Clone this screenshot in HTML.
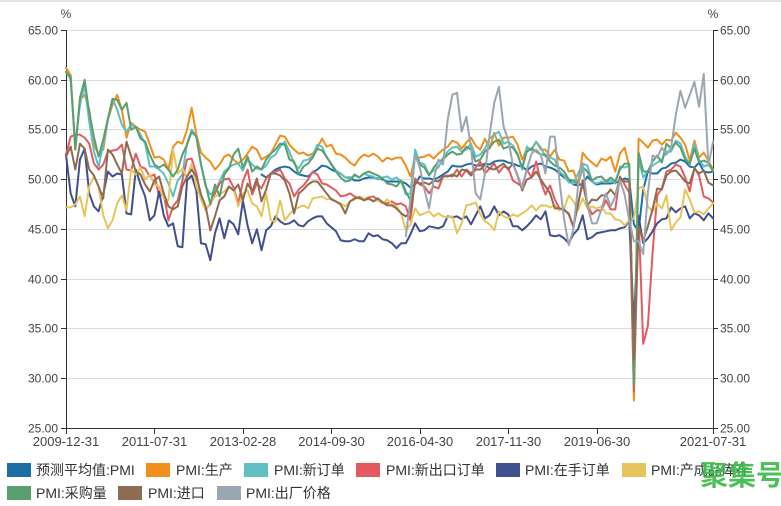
<!DOCTYPE html>
<html><head><meta charset="utf-8"><style>
html,body{margin:0;padding:0;background:#fff;}
svg{display:block;}
text{font-family:"Liberation Sans","Noto Sans CJK SC",sans-serif;}
</style></head><body>
<svg width="781" height="506" viewBox="0 0 781 506" xmlns="http://www.w3.org/2000/svg">
<rect x="0" y="0" width="781" height="506" fill="#fff"/>
<rect x="0" y="0" width="781" height="2" fill="#e2e2e2"/>
<!-- grid -->
<g stroke="#dcdcdc" stroke-width="1">
<line x1="66" y1="30.5" x2="713" y2="30.5"/>
<line x1="66" y1="80.5" x2="713" y2="80.5"/>
<line x1="66" y1="129.5" x2="713" y2="129.5"/>
<line x1="66" y1="179.5" x2="713" y2="179.5"/>
<line x1="66" y1="229.5" x2="713" y2="229.5"/>
<line x1="66" y1="279.5" x2="713" y2="279.5"/>
<line x1="66" y1="328.5" x2="713" y2="328.5"/>
<line x1="66" y1="378.5" x2="713" y2="378.5"/>
</g>
<!-- axes -->
<g stroke="#333" stroke-width="1">
<line x1="66.5" y1="30" x2="66.5" y2="429"/>
<line x1="713.5" y1="30" x2="713.5" y2="429"/>
<line x1="66" y1="428.5" x2="714" y2="428.5"/>
<line x1="61" y1="30.5" x2="66" y2="30.5"/><line x1="61" y1="80.5" x2="66" y2="80.5"/><line x1="61" y1="129.5" x2="66" y2="129.5"/><line x1="61" y1="179.5" x2="66" y2="179.5"/><line x1="61" y1="229.5" x2="66" y2="229.5"/><line x1="61" y1="279.5" x2="66" y2="279.5"/><line x1="61" y1="328.5" x2="66" y2="328.5"/><line x1="61" y1="378.5" x2="66" y2="378.5"/><line x1="61" y1="428.5" x2="66" y2="428.5"/>
<line x1="713" y1="30.5" x2="718" y2="30.5"/><line x1="713" y1="80.5" x2="718" y2="80.5"/><line x1="713" y1="129.5" x2="718" y2="129.5"/><line x1="713" y1="179.5" x2="718" y2="179.5"/><line x1="713" y1="229.5" x2="718" y2="229.5"/><line x1="713" y1="279.5" x2="718" y2="279.5"/><line x1="713" y1="328.5" x2="718" y2="328.5"/><line x1="713" y1="378.5" x2="718" y2="378.5"/><line x1="713" y1="428.5" x2="718" y2="428.5"/>
<line x1="66.5" y1="428" x2="66.5" y2="434"/><line x1="154.5" y1="428" x2="154.5" y2="434"/><line x1="243.5" y1="428" x2="243.5" y2="434"/><line x1="331.5" y1="428" x2="331.5" y2="434"/><line x1="420.5" y1="428" x2="420.5" y2="434"/><line x1="508.5" y1="428" x2="508.5" y2="434"/><line x1="597.5" y1="428" x2="597.5" y2="434"/><line x1="713.5" y1="428" x2="713.5" y2="434"/>
</g>
<!-- y labels -->
<g font-size="12" fill="#444" text-anchor="end">
<text x="58" y="34.5">65.00</text><text x="58" y="84.5">60.00</text><text x="58" y="133.5">55.00</text><text x="58" y="183.5">50.00</text><text x="58" y="233.5">45.00</text><text x="58" y="283.5">40.00</text><text x="58" y="332.5">35.00</text><text x="58" y="382.5">30.00</text><text x="58" y="432.5">25.00</text>
</g>
<g font-size="12" fill="#444" text-anchor="start">
<text x="720" y="34.5">65.00</text><text x="720" y="84.5">60.00</text><text x="720" y="133.5">55.00</text><text x="720" y="183.5">50.00</text><text x="720" y="233.5">45.00</text><text x="720" y="283.5">40.00</text><text x="720" y="332.5">35.00</text><text x="720" y="382.5">30.00</text><text x="720" y="432.5">25.00</text>
</g>
<g font-size="12" fill="#444" text-anchor="middle">
<text x="66" y="18">%</text><text x="713" y="18">%</text>
</g>
<!-- x labels -->
<g font-size="13" fill="#444" text-anchor="middle">
<text x="66" y="446">2009-12-31</text><text x="154.5" y="446">2011-07-31</text><text x="243" y="446">2013-02-28</text><text x="331.5" y="446">2014-09-30</text><text x="420" y="446">2016-04-30</text><text x="508.5" y="446">2017-11-30</text><text x="597" y="446">2019-06-30</text><text x="713" y="446">2021-07-31</text>
</g>
<!-- series -->
<g transform="translate(66,677.5) scale(4.655,-9.96)" fill="none" stroke-width="2" stroke-linejoin="round" stroke-linecap="round">
<polyline vector-effect="non-scaling-stroke" stroke="#1e6ea6" points="42,50.5 43,50.2 44,50.6 45,51 46,51.2 47,51.3 48,51.2 49,50.8 50,50.5 51,50.4 52,50.3 53,50.7 54,51 55,51.4 56,51.3 57,51 58,50.8 59,50.6 60,50.2 61,50.2 62,49.9 63,49.9 64,50.1 65,50.2 66,50.2 67,50.1 68,50 69,49.8 70,49.8 71,49.8 72,49.8 73,49.6 74,49.2 75,49.5 76,50.3 77,50.1 78,50.1 79,50 80,50.2 81,50.5 82,50.8 83,51.4 84,51.3 85,51.3 86,51.5 87,51.6 88,51.4 89,51.4 90,51.6 91,51.5 92,51.8 93,51.9 94,51.9 95,51.7 96,51.6 97,51.4 98,51.3 99,50.9 100,51.3 101,51.5 102,51.6 103,51.3 104,51.2 105,51 106,50.6 107,50.2 108,50 109,49.5 110,49.4 111,49.6 112,50.3 113,49.8 114,49.5 115,49.6 116,49.6 117,49.6 118,49.7 119,49.8 120,50.1 121,50 122,45.5 123,44.8 124,49 125,50.8 126,50.6 127,50.6 128,51.1 129,51.2 130,51.6 131,51.7 132,52 133,51.8 134,51.3 135,51.2 136,51.7 137,50.8 138,50.7 139,50.8"/>
<polyline vector-effect="non-scaling-stroke" stroke="#f28e1c" points="0,61.2 1,60.5 2,53 3,58 4,58.5 5,57 6,53.5 7,52.5 8,53 9,56 10,57.5 11,58.5 12,57 13,54.2 14,55.7 15,55.3 16,55 17,54.8 18,53.5 19,52.2 20,52.3 21,52 22,51 23,53.3 24,53.8 25,53.6 26,55 27,57.2 28,54.5 29,52.7 30,52.2 31,51.8 32,51 33,51.5 34,52.3 35,52.5 36,52 37,51.6 38,52 39,52.6 40,53.3 41,53 42,52 43,52.3 44,52.6 45,53.5 46,54.4 47,54.3 48,53.5 49,53 50,52.6 51,52.7 52,52.4 53,52.6 54,53.2 55,54.1 56,53.3 57,53.5 58,52.6 59,52.5 60,52.2 61,51.7 62,51.4 63,52.1 64,52.5 65,52.3 66,52.6 67,52.3 68,51.8 69,52.2 70,52 71,52.2 72,52.2 73,51.4 74,50.3 75,52.3 76,52.2 77,52.3 78,52.5 79,52.1 80,52.6 81,53 82,53.3 83,53.9 84,53.7 85,53.1 86,53.7 87,54.2 88,53.4 89,53 90,54.1 91,53.1 92,54.7 93,53.4 94,54.2 95,54.2 96,54.3 97,53.5 98,52 99,53.1 100,53.1 101,53.8 102,53 103,53 104,52.3 105,53 106,52 107,51.9 108,50.8 109,50.9 110,49.5 111,52.7 112,52.1 113,51.7 114,51.3 115,52.1 116,51.9 117,52.3 118,50.8 119,52.6 120,53.2 121,51.3 122,27.8 123,54.1 124,53.7 125,53.2 126,53.9 127,54 128,53.5 129,54 130,53.9 131,54.7 132,54.2 133,53.5 134,51.9 135,53.9 136,52.2 137,52.7 138,51.9 139,51"/>
<polyline vector-effect="non-scaling-stroke" stroke="#5ec0c2" points="0,60.8 1,60 2,53.5 3,57.5 4,59.5 5,55.8 6,52.8 7,51.3 8,53.5 9,56 10,58.1 11,57 12,55.5 13,54.8 14,55.5 15,55.3 16,54.5 17,53.6 18,51.3 19,51.3 20,51 21,50.6 22,49.6 23,48.3 24,49.9 25,50.5 26,53.6 27,55 28,54.3 29,51.5 30,49.3 31,48.5 32,48.8 33,49.8 34,50.8 35,51.2 36,51.5 37,51.6 38,50.9 39,52 40,51.5 41,51.1 42,51 43,51.4 44,52.2 45,52.5 46,53.3 47,53.8 48,52.8 49,51.6 50,51.1 51,51.9 52,52 53,52.4 54,53.5 55,53.3 56,52.2 57,51.6 58,50.9 59,50.6 60,50.2 61,50.1 62,50.4 63,50.2 64,50.6 65,50.4 66,50.3 67,50 68,50.2 69,50.3 70,50 71,50.2 72,49.8 73,48.5 74,48.6 75,53 76,51.7 77,51.5 78,50.5 79,50.9 80,51.2 81,52.2 82,52.8 83,53.2 84,53.3 85,52.8 86,53 87,53.6 88,52.3 89,52.5 90,53.1 91,54.1 92,54.5 93,54.8 94,53.6 95,53.8 96,53.4 97,52.6 98,51 99,53.3 100,52.9 101,53.8 102,53.2 103,52.3 104,52.2 105,52 106,50.8 107,50.4 108,49.7 109,49.6 110,50.6 111,51.6 112,51.4 113,49.8 114,49.6 115,49.8 116,49.7 117,49.9 118,49.6 119,51.3 120,51.2 121,51.4 122,29.3 123,52 124,50.2 125,50.9 126,51.4 127,51.7 128,52 129,52.8 130,52.8 131,53.9 132,53.6 133,52.3 134,51.5 135,53.6 136,52 137,51.3 138,51.5 139,50.9"/>
<polyline vector-effect="non-scaling-stroke" stroke="#e35b60" points="0,52.5 1,54.3 2,54.5 3,54.5 4,54.2 5,53.6 6,51.6 7,51 8,51.5 9,52.8 10,52.9 11,53 12,53.5 13,51 14,50.9 15,52.6 16,51.3 17,51.1 18,50.3 19,50.5 20,48.3 21,48.6 22,45.9 23,47.3 24,47.9 25,49.9 26,52 27,52.1 28,50.6 29,48.3 30,47 31,47.5 32,48.6 33,49.6 34,50 35,50.1 36,49.2 37,47.6 38,49.8 39,51 40,48.5 41,49.6 42,49.1 43,50.1 44,50.6 45,50.8 46,51 47,50.1 48,49.6 49,48.3 50,49 51,49.4 52,50 53,50.8 54,50.5 55,49.6 56,49.5 57,49.2 58,48.9 59,48.3 60,48.4 61,48.6 62,48.3 63,48.1 64,48 65,48.2 66,48.3 67,48 68,47.7 69,47.6 70,47.8 71,47.5 72,47.6 73,47.3 74,45.9 75,50.1 76,49.5 77,49.3 78,48.6 79,49.3 80,49.1 81,50.3 82,50.4 83,50.3 84,51 85,50.3 86,51 87,50.6 88,51.2 89,51.8 90,50.6 91,51.1 92,51.6 93,50.7 94,51.3 95,51.2 96,49.9 97,49.6 98,49.3 99,51 100,50.2 101,51.8 102,49.8 103,48.5 104,49.4 105,48 106,47.1 107,46.9 108,46.6 109,45.2 110,47.6 111,49.6 112,47.5 113,46.5 114,46.9 115,46.9 116,47.9 117,47 118,47 119,50.3 120,49.5 121,48.7 122,28.7 123,46.4 124,33.5 125,35.3 126,42.6 127,48.4 128,49.1 129,50.8 130,51 131,51.5 132,51.3 133,50.2 134,48.8 135,51.2 136,50.4 137,48.3 138,48.1 139,47.7"/>
<polyline vector-effect="non-scaling-stroke" stroke="#424f8e" points="0,52.5 1,48.6 2,47.3 3,52 4,53.1 5,48.6 6,47.3 7,46.8 8,48.5 9,50.8 10,50.3 11,50.6 12,50.5 13,46.6 14,46.5 15,51 16,49.5 17,48.3 18,45.9 19,46.4 20,48.8 21,46.4 22,45.3 23,45.6 24,43.3 25,43.2 26,49.9 27,50.4 28,48.9 29,43.6 30,43.5 31,41.9 32,44.6 33,46.1 34,44.1 35,45.9 36,45.5 37,44.5 38,47.9 39,45.4 40,43.6 41,45 42,42.9 43,44.9 44,45.3 45,46.3 46,45.8 47,45.5 48,45.6 49,45.9 50,45.4 51,45.3 52,45.8 53,46.1 54,46.3 55,46.3 56,45.6 57,45.2 58,44.8 59,43.9 60,43.8 61,43.8 62,44 63,43.8 64,43.8 65,44.6 66,44.3 67,44.4 68,44 69,43.9 70,43.6 71,43.1 72,43.6 73,43.6 74,44.5 75,45.6 76,44.8 77,44.9 78,45.3 79,45.2 80,45.1 81,45.3 82,46.3 83,46.2 84,46.3 85,46 86,46.3 87,45.5 88,46.4 89,47.3 90,46.1 91,46.4 92,47.3 93,46.4 94,46.8 95,46.5 96,45.3 97,45.3 98,44.9 99,45.3 100,45.8 101,46.4 102,46 103,46.8 104,44.4 105,44.3 106,44.4 107,44.1 108,43.6 109,44.5 110,45 111,46.4 112,44 113,44.2 114,44.6 115,44.7 116,44.8 117,44.9 118,44.9 119,45.1 120,45.2 121,45.9 122,35.3 123,46.3 124,43.6 125,44.1 126,44.8 127,45.6 128,46 129,46.1 130,47.2 131,46.7 132,47.1 133,47.3 134,46.1 135,46.6 136,46.4 137,45.9 138,46.6 139,46.1"/>
<polyline vector-effect="non-scaling-stroke" stroke="#e6c65b" points="0,47.2 1,47.2 2,47.5 3,48.3 4,46.3 5,49.3 6,50.3 7,49.3 8,46.4 9,45.1 10,45.9 11,47.6 12,48.4 13,46.9 14,51 15,50.5 16,51.2 17,50 18,50.5 19,49.5 20,49.3 21,48.1 22,47.9 23,53 24,50.6 25,51.1 26,50.2 27,51.6 28,49.3 29,48 30,46.9 31,47.6 32,48.3 33,48.5 34,48.8 35,49.3 36,49 37,47.3 38,48.6 39,48.9 40,47.6 41,47.3 42,46.3 43,48.6 44,45.9 45,45.8 46,47.9 47,45.9 48,46.5 49,47 50,47.2 51,47.4 52,47.1 53,48.1 54,48.2 55,48.3 56,48 57,48.1 58,47.8 59,47.6 60,47.3 61,47.8 62,48 63,48.3 64,48.1 65,48 66,47.9 67,47.9 68,47.6 69,48 70,47.5 71,47.3 72,46.6 73,44.9 74,45.5 75,47.1 76,46.4 77,46.6 78,46.8 79,46.3 80,46.6 81,46.3 82,46.2 83,46.3 84,44.6 85,45.6 86,47.4 87,47.5 88,47.7 89,46.5 90,45.8 91,45.5 92,44.9 93,46.8 94,46.3 95,46.1 96,46.5 97,46.3 98,46.6 99,46.9 100,47.4 101,46.9 102,47.4 103,47.4 104,47.2 105,47.4 106,46.9 107,47.1 108,48.4 109,47.8 110,46.9 111,48.1 112,47.1 113,47.3 114,47.1 115,47.3 116,46.6 117,46.6 118,46 119,45.9 120,45.4 121,45.9 122,46.1 123,49.1 124,49.3 125,47.3 126,46.8 127,47.6 128,47.1 129,48.4 130,44.9 131,45.7 132,46.2 133,49 134,48 135,46.7 136,46.8 137,46.5 138,47.1 139,47.6"/>
<polyline vector-effect="non-scaling-stroke" stroke="#5b9f70" points="0,60.8 1,60.3 2,53 3,58.2 4,60 5,56.7 6,54.3 7,52.3 8,54 9,56.1 10,58.1 11,58 12,57 13,57.7 14,55 15,55.3 16,54.1 17,53.8 18,52.5 19,51.5 20,51.2 21,51.5 22,51 23,50.3 24,51 25,52.5 26,53.5 27,54.8 28,54.3 29,51.5 30,49.5 31,47.5 32,49.5 33,48.3 34,50.5 35,51.1 36,52.5 37,53.1 38,51.2 39,52.3 40,50.8 41,51.3 42,51 43,52 44,52.6 45,53 46,53.6 47,53.5 48,52 49,51.8 50,50.5 51,51.3 52,51.6 53,52.2 54,53.1 55,52.9 56,52.3 57,51.5 58,50.8 59,50.2 60,49.8 61,49.9 62,50.5 63,50.2 64,50.6 65,50.8 66,50.6 67,50.4 68,50.1 69,49.6 70,49.5 71,49.3 72,49.9 73,48.8 74,47.9 75,52.5 76,51.5 77,51.2 78,50.4 79,51.2 80,51.8 81,52 82,52.5 83,52.8 84,52.5 85,52.6 86,53.3 87,53 88,51.8 89,52 90,52.8 91,53.2 92,53.8 93,54 94,53.1 95,53.3 96,53.2 97,52.5 98,51.2 99,52.8 100,53.1 101,52.8 102,52.5 103,52.5 104,51.8 105,51.4 106,51.2 107,50.8 108,50 109,49.9 110,49.5 111,51.2 112,50.8 113,49.9 114,50.2 115,50.3 116,49.8 117,50.2 118,49.8 119,51 120,51.6 121,51.6 122,29.3 123,52.7 124,50.8 125,50.8 126,51.8 127,52.4 128,51.7 129,53.6 130,53.1 131,53.7 132,53.2 133,52 134,51.6 135,53.1 136,51.7 137,51.9 138,51.7 139,50.8"/>
<polyline vector-effect="non-scaling-stroke" stroke="#8f6b51" points="0,52.3 1,53.3 2,51 3,53.6 4,53.1 5,51 6,50.4 7,49.3 8,48.1 9,53 10,52.5 11,51.5 12,50.6 13,53.8 14,52.3 15,50.8 16,50.5 17,49.5 18,48.8 19,49.9 20,50.3 21,48.6 22,47.3 23,47 24,47.3 25,49.3 26,50.3 27,51 28,50.3 29,48.5 30,47.3 31,44.9 32,46.3 33,47.9 34,48.3 35,49.3 36,48.9 37,49.5 38,47.9 39,49.6 40,48.8 41,50.1 42,47.8 43,49 44,50.6 45,50.6 46,50.4 47,49.9 48,48.6 49,46.6 50,48.6 51,49 52,49.5 53,49.8 54,49.8 55,49.2 56,48.6 57,48 58,47.8 59,47.5 60,46.6 61,47.8 62,48.1 63,48.2 64,47.9 65,48.1 66,47.8 67,48.1 68,47.7 69,47.4 70,47.4 71,47.1 72,46.6 73,46.3 74,46.7 75,49.8 76,49.6 77,49.7 78,49.5 79,49.9 80,49.8 81,50.3 82,50.3 83,50.5 84,50.3 85,51 86,50.9 87,50.4 88,51 89,51 90,51.5 91,51.1 92,51 93,51.3 94,51.6 95,51 96,51.6 97,50.4 98,48.9 99,50 100,50.2 101,50.8 102,50 103,49.3 104,48.6 105,47.1 106,47.1 107,47 108,46.5 109,45.3 110,47.5 111,49.9 112,47.4 113,48 114,47.9 115,48.4 116,48.4 117,49 118,48.4 119,50.2 120,49.8 121,49.8 122,31.9 123,45.3 124,43.9 125,45.3 126,47 127,49.1 128,49 129,50.4 130,50.8 131,50.9 132,50.4 133,49.8 134,49.6 135,51.1 136,50.6 137,50.9 138,49.7 139,49.4"/>
<polyline vector-effect="non-scaling-stroke" stroke="#9aa6b2" points="73,44.3 74,48 75,52.5 76,51.2 77,49 78,47.1 79,50 80,52 81,51.5 82,56 83,58.5 84,58.7 85,54.8 86,56.3 87,53.2 88,48.6 89,48 90,50.6 91,54.5 92,57.7 93,59.3 94,55.3 95,54 96,51.5 97,50.5 98,49.1 99,51 100,52.6 101,53 102,52.5 103,50.6 104,54.3 105,54.3 106,49.9 107,46 108,43.4 109,45 110,49.3 111,51.6 112,47.4 113,45.6 114,45.6 115,47 116,48.6 117,47.3 118,48.3 119,49.9 120,48.5 121,45.9 122,43.8 123,43.8 124,42.5 125,48.7 126,52.4 127,52.2 128,53.2 129,52.5 130,53.2 131,56.5 132,58.9 133,57.2 134,58.5 135,59.8 136,57.3 137,60.6 138,51.4 139,53.8"/>
</g>
<!-- legend -->
<g font-size="14" fill="#333">
<rect x="7" y="463" width="24" height="14" fill="#1e6ea6"/><text x="36" y="475">预测平均值:PMI</text>
<rect x="146" y="463" width="24" height="14" fill="#f28e1c"/><text x="176" y="475">PMI:生产</text>
<rect x="244" y="463" width="24" height="14" fill="#5ec0c2"/><text x="274" y="475">PMI:新订单</text>
<rect x="356" y="463" width="24" height="14" fill="#e35b60"/><text x="386" y="475">PMI:新出口订单</text>
<rect x="496" y="463" width="24" height="14" fill="#424f8e"/><text x="525" y="475">PMI:在手订单</text>
<rect x="622" y="463" width="24" height="14" fill="#e6c65b"/><text x="651" y="475">PMI:产成品库存</text>
<rect x="7" y="486" width="24" height="14" fill="#5b9f70"/><text x="36" y="498">PMI:采购量</text>
<rect x="118" y="486" width="24" height="14" fill="#8f6b51"/><text x="148" y="498">PMI:进口</text>
<rect x="217" y="486" width="24" height="14" fill="#9aa6b2"/><text x="246" y="498">PMI:出厂价格</text>
</g>
<text x="700" y="485" font-size="28" font-weight="bold" fill="#3dbb4a" fill-opacity="0.92" style="font-family:'Noto Sans CJK SC','WenQuanYi Zen Hei',sans-serif">聚集号</text>
</svg>
</body></html>
